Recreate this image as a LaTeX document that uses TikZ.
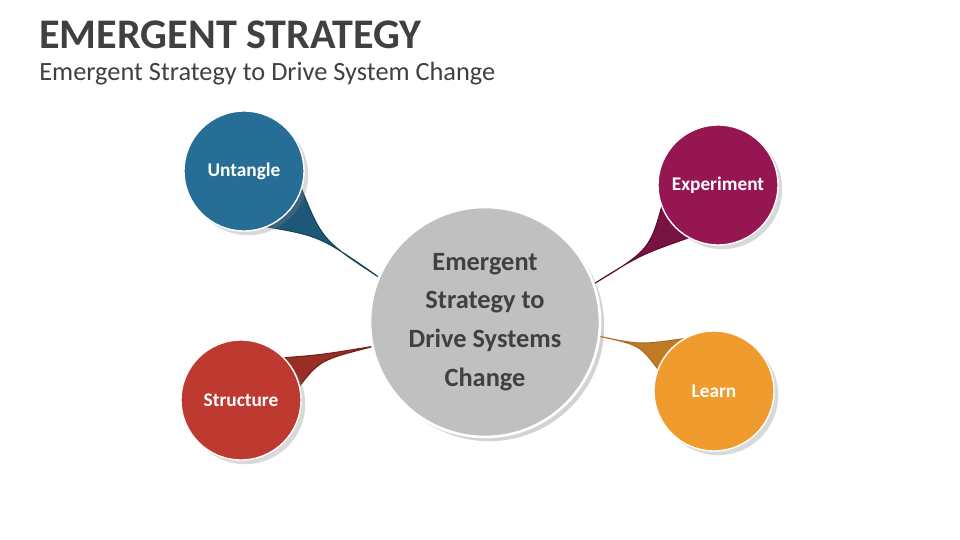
\documentclass[tikz,border=0pt]{standalone}
\usepackage{fontspec}
\setmainfont{Carlito}
\usetikzlibrary{shadows}
\definecolor{untblue}{RGB}{38,110,150}
\definecolor{expplum}{RGB}{150,22,82}
\definecolor{strred}{RGB}{190,57,48}
\definecolor{lrnorange}{RGB}{240,155,45}
\definecolor{coregray}{RGB}{192,192,192}
\definecolor{titlegray}{RGB}{64,64,64}
\tikzset{
  leaf/.style={circle, minimum size=120\unitpx, draw=white, line width=0.8pt, drop shadow={opacity=0.3}, text=white, font=\bfseries\fontsize{11}{13}\selectfont},
  tail/.style={line width=0.6pt}
}
\newlength{\unitpx}
\setlength{\unitpx}{0.02cm}
\begin{document}
\begin{tikzpicture}[x=0.02cm, y=-0.02cm]
\useasboundingbox (0,0) rectangle (960,540);

% Title
\node[anchor=west, font=\bfseries\fontsize{24}{28}\selectfont, text=titlegray, inner sep=0] (title) at (39,35) {EMERGENT STRATEGY};
\node[anchor=west, font=\fontsize{15}{18}\selectfont, text=titlegray, inner sep=0] (subtitle) at (39,74) {Emergent Strategy to Drive System Change};

% Tails
\coordinate (tu) at (380,278);
\coordinate (te) at (592,285);
\coordinate (ts) at (375,346);
\coordinate (tl) at (598,336);
\filldraw[tail, fill=untblue!80!black, draw=untblue!60!black] (300,185) .. controls (322,240) .. (tu) .. controls (320,236) .. (262,226) -- cycle;
\filldraw[tail, fill=expplum!80!black, draw=expplum!60!black] (664,198) .. controls (650,250) .. (te) .. controls (640,255) .. (688,238) -- cycle;
\filldraw[tail, fill=strred!80!black, draw=strred!60!black] (280,358) .. controls (320,355) .. (ts) .. controls (320,360) .. (298,388) -- cycle;
\filldraw[tail, fill=lrnorange!80!black, draw=lrnorange!70!black] (688,338) .. controls (640,345) .. (tl) .. controls (640,345) .. (660,372) -- cycle;

% Center
\node[circle, minimum size=230\unitpx, fill=coregray, draw=white, line width=1.5pt, drop shadow={opacity=0.35}, text=titlegray, align=center, font=\bfseries\fontsize{15}{22}\selectfont] (core) at (485,322) {Emergent\\Strategy to\\Drive Systems\\Change};

% Leaves
\node[leaf, fill=untblue] (untangle) at (244,171) {Untangle};
\node[leaf, fill=expplum] (experiment) at (718,185) {Experiment};
\node[leaf, fill=strred] (structure) at (241,400) {Structure};
\node[leaf, fill=lrnorange] (learn) at (714,391) {Learn};
\end{tikzpicture}
\end{document}
